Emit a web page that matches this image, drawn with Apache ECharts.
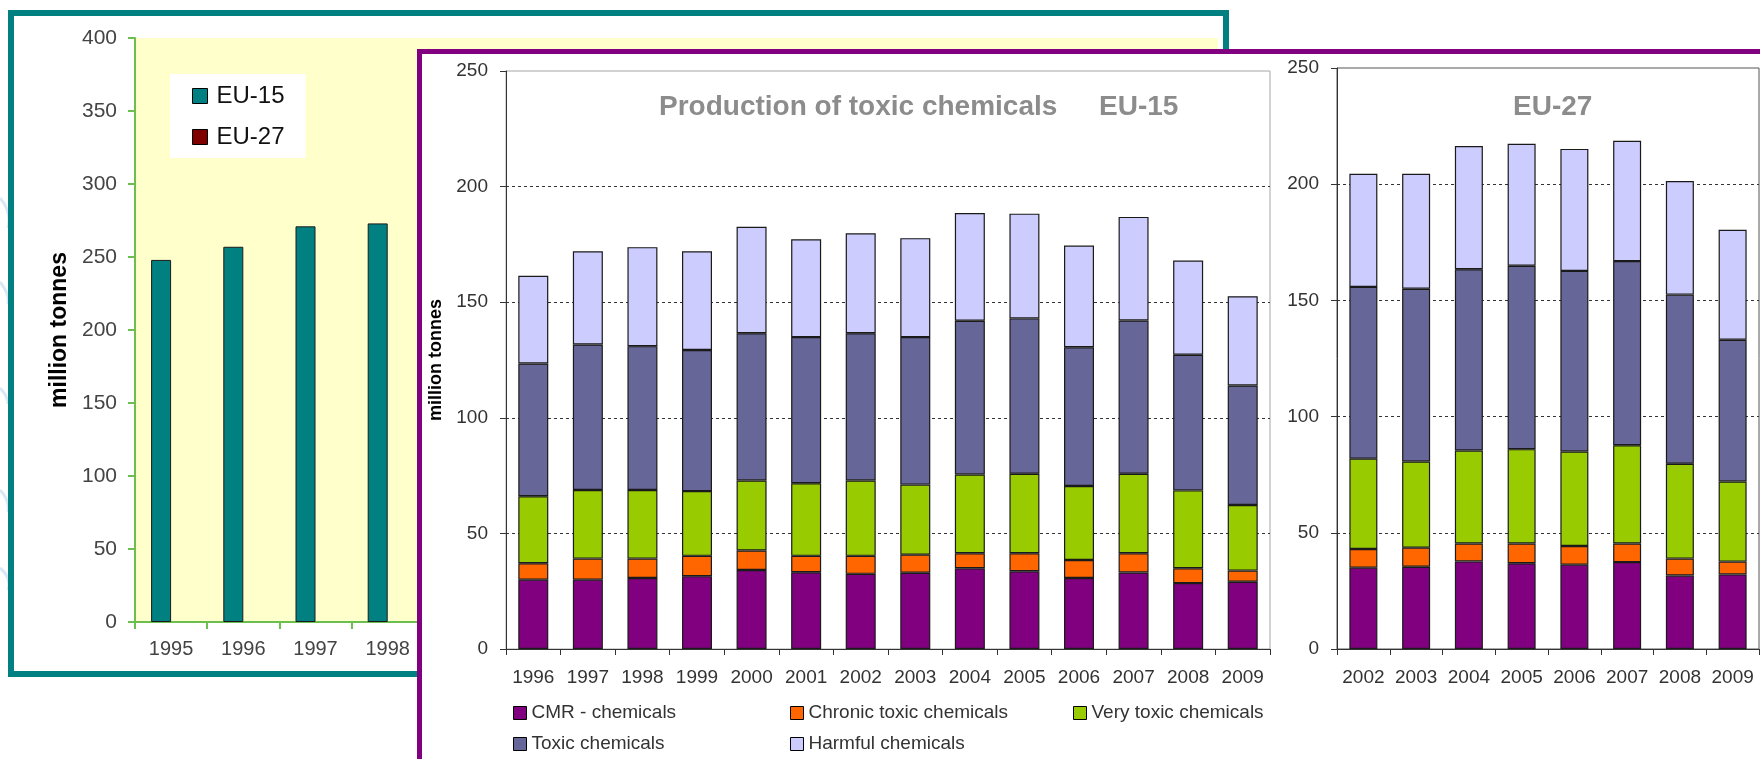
<!DOCTYPE html>
<html>
<head>
<meta charset="utf-8">
<script src="https://cdn.jsdelivr.net/npm/echarts@6/dist/echarts.min.js"></script>
<style>
  html, body { margin: 0; padding: 0; width: 1760px; height: 759px; overflow: hidden; background: #fff; }
  #back { position: absolute; left: 0; top: 0; width: 1760px; height: 759px; }
  #panel { position: absolute; left: 417px; top: 49px; width: 1400px; height: 760px;
           border: 5px solid #800080; background: #fff; box-sizing: border-box; }
  #front { position: absolute; left: 0; top: 0; width: 1338px; height: 705px; }
</style>
</head>
<body>
<div id="back"></div>
<div id="panel"><div id="front"></div></div>
<script>
// background chart: total production, only 1995-1998 are visible
const bgYears = ["1995", "1996", "1997", "1998", "1999", "2000", "2001", "2002",
  "2003", "2004", "2005", "2006", "2007", "2008", "2009"];
const eu15Totals = [248, 257, 271, 273];
const eu27Totals = [];

// front panel: production of toxic chemicals by class
const yearsEU15 = ["1996", "1997", "1998", "1999", "2000", "2001", "2002",
  "2003", "2004", "2005", "2006", "2007", "2008", "2009"];
const cmr15 = [30.0, 30.0, 30.7, 31.5, 34.2, 33.2, 32.5, 33.0, 34.9, 33.6, 30.7, 33.1, 28.5, 29.1];
const chronic15 = [7.1, 9.1, 8.4, 8.8, 8.4, 7.1, 7.8, 7.8, 6.5, 7.8, 7.8, 8.3, 6.4, 4.8];
const veryToxic15 = [29.0, 29.7, 29.7, 28.0, 30.3, 31.4, 32.6, 30.3, 34.1, 34.4, 32.0, 34.4, 33.7, 28.4];
const toxic15 = [57.4, 62.9, 62.2, 61.0, 63.7, 63.2, 63.7, 63.8, 66.5, 67.2, 60.0, 66.3, 58.7, 51.7];
const harmful15 = [37.9, 40.3, 42.8, 42.7, 46.0, 42.3, 43.2, 42.8, 46.6, 45.3, 44.0, 44.8, 40.7, 38.6];

const yearsEU27 = ["2002", "2003", "2004", "2005", "2006", "2007", "2008", "2009"];
const cmr27 = [35.0, 35.4, 37.7, 36.9, 36.3, 37.4, 31.6, 32.1];
const chronic27 = [8.0, 8.2, 7.7, 8.5, 8.0, 8.0, 7.3, 5.5];
const veryToxic27 = [38.9, 37.1, 40.0, 40.6, 40.7, 42.3, 40.8, 34.5];
const toxic27 = [73.9, 74.3, 78.0, 78.9, 77.7, 79.2, 72.8, 61.0];
const harmful27 = [48.7, 49.5, 53.0, 52.5, 52.5, 51.8, 48.9, 47.3];

const classNames = ["CMR - chemicals", "Chronic toxic chemicals", "Very toxic chemicals",
  "Toxic chemicals", "Harmful chemicals"];
const classColors = ["#800080", "#ff6600", "#99cc00", "#666699", "#ccccff"];

const font = "Liberation Sans, Arial, sans-serif";
const green = "#6cbf4f";

// faint swirl strokes of the slide background, at the far left
function swirl(x1, y1, cx, cy, x2, y2) {
  return {
    type: "bezierCurve",
    shape: { x1: x1, y1: y1, x2: x2, y2: y2, cpx1: cx, cpy1: cy },
    style: { fill: "none", stroke: "#d7e7f6", lineWidth: 3 }
  };
}

// ---------- background chart ----------
const back = echarts.init(document.getElementById("back"));
back.setOption({
  animation: false,
  textStyle: { fontFamily: font },
  graphic: [
    swirl(0, 198, 12, 212, 8, 228),
    swirl(0, 282, 10, 294, 8, 304),
    swirl(0, 388, 8, 396, 8, 404),
    swirl(0, 490, 10, 500, 8, 512),
    swirl(0, 568, 12, 578, 8, 590),
    {
      type: "rect",
      shape: { x: 11, y: 13, width: 1215, height: 661 },
      style: { fill: "none", stroke: "#008080", lineWidth: 6 }
    }
  ],
  legend: {
    orient: "vertical",
    left: 170,
    top: 74,
    backgroundColor: "#fff",
    padding: [10, 21, 9, 22],
    icon: "rect",
    itemWidth: 15,
    itemHeight: 15,
    itemGap: 17,
    selectedMode: false,
    itemStyle: { borderColor: "#000", borderWidth: 1 },
    textStyle: { fontSize: 24, lineHeight: 22, color: "#111", padding: [0, 0, 0, 4] },
    data: ["EU-15", "EU-27"]
  },
  grid: {
    left: 135, top: 38, width: 1083, height: 584,
    show: true, backgroundColor: "#ffffcc", borderWidth: 0,
    outerBoundsMode: "none"
  },
  xAxis: {
    type: "category",
    data: bgYears,
    axisLine: { lineStyle: { color: green, width: 2 } },
    axisTick: { show: true, length: 7, lineStyle: { color: green, width: 2 } },
    axisLabel: { fontSize: 20, color: "#444", margin: 17, interval: 0 }
  },
  yAxis: {
    type: "value",
    min: 0, max: 400, interval: 50,
    name: "million tonnes",
    nameLocation: "middle",
    nameGap: 64,
    nameTextStyle: { fontSize: 23, fontWeight: "bold", color: "#000" },
    axisLine: { show: true, lineStyle: { color: green, width: 2 } },
    axisTick: { show: true, length: 7, lineStyle: { color: green, width: 2 } },
    axisLabel: { fontSize: 21, color: "#444", margin: 18 },
    splitLine: { show: false }
  },
  series: [
    {
      name: "EU-15", type: "bar", data: eu15Totals,
      barWidth: 20, barGap: "0%",
      itemStyle: { color: "#008080", borderColor: "#1a1a1a", borderWidth: 1 }
    },
    {
      name: "EU-27", type: "bar", data: eu27Totals,
      barWidth: 20,
      itemStyle: { color: "#800000", borderColor: "#1a1a1a", borderWidth: 1 }
    }
  ]
});

// ---------- front panel ----------
const front = echarts.init(document.getElementById("front"));

function stackSeries(datas, axis, stack, width) {
  return datas.map((d, i) => ({
    name: classNames[i],
    type: "bar",
    stack: stack,
    xAxisIndex: axis,
    yAxisIndex: axis,
    data: d,
    barWidth: width,
    itemStyle: { color: classColors[i], borderColor: "#1a1a1a", borderWidth: 1.2 }
  }));
}

function xAxisFor(idx, years) {
  return {
    gridIndex: idx,
    type: "category",
    data: years,
    axisLine: { lineStyle: { color: "#333" } },
    axisTick: { show: true, length: 6, lineStyle: { color: "#333" } },
    axisLabel: { fontSize: 19, color: "#333", margin: 19, interval: 0, hideOverlap: false }
  };
}

function yAxisFor(idx) {
  return {
    gridIndex: idx,
    type: "value",
    min: 0, max: 250, interval: 50,
    axisLine: { show: true, lineStyle: { color: "#333" } },
    axisTick: { show: true, length: 6, lineStyle: { color: "#333" } },
    axisLabel: { fontSize: 19, color: "#333", margin: 18 },
    splitLine: {
      show: true, showMinLine: false, showMaxLine: false,
      lineStyle: { type: [3, 3], color: "#333", width: 1 }
    }
  };
}

const legendBase = {
  orient: "vertical",
  top: 649.5,
  padding: 0,
  icon: "rect",
  itemWidth: 13,
  itemHeight: 13,
  itemGap: 12,
  selectedMode: false,
  itemStyle: { borderColor: "#000", borderWidth: 1 },
  textStyle: { fontSize: 19, lineHeight: 19, color: "#333" }
};

const yLeft = yAxisFor(0);
yLeft.name = "million tonnes";
yLeft.nameLocation = "middle";
yLeft.nameGap = 59;
yLeft.nameTextStyle = { fontSize: 18, fontWeight: "bold", color: "#000" };

const titleStyle = { fontSize: 28, fontWeight: "bold", color: "#8c8c8c" };

front.setOption({
  animation: false,
  textStyle: { fontFamily: font },
  title: [
    { text: "Production of toxic chemicals", left: 237, top: 39, padding: 0, textStyle: titleStyle },
    { text: "EU-15", left: 677, top: 39, padding: 0, textStyle: titleStyle },
    { text: "EU-27", left: 1091, top: 39, padding: 0, textStyle: titleStyle }
  ],
  legend: [
    Object.assign({}, legendBase, { left: 91, data: [classNames[0], classNames[3]] }),
    Object.assign({}, legendBase, { left: 368, data: [classNames[1], classNames[4]] }),
    Object.assign({}, legendBase, { left: 651, data: [classNames[2]] })
  ],
  grid: [
    { left: 84, top: 17, width: 764, height: 578, show: true,
      borderColor: "#a6a6a6", borderWidth: 1, outerBoundsMode: "none" },
    { left: 915, top: 14, width: 422, height: 581, show: true,
      borderColor: "#555", borderWidth: 1, outerBoundsMode: "none" }
  ],
  xAxis: [xAxisFor(0, yearsEU15), xAxisFor(1, yearsEU27)],
  yAxis: [yLeft, yAxisFor(1)],
  series: stackSeries([cmr15, chronic15, veryToxic15, toxic15, harmful15], 0, "eu15", 30)
    .concat(stackSeries([cmr27, chronic27, veryToxic27, toxic27, harmful27], 1, "eu27", 28))
});
</script>
</body>
</html>
